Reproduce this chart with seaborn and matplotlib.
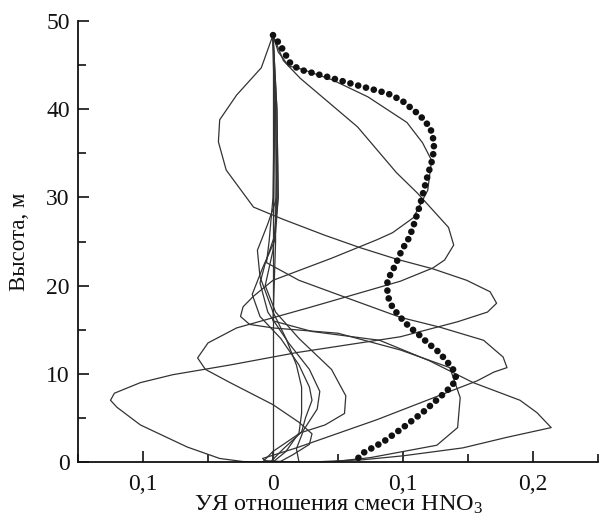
import matplotlib
matplotlib.use("Agg")
import matplotlib.pyplot as plt
import seaborn as sns
import pandas as pd

# ---------------- data ----------------
x_ticks = [-0.1, 0.0, 0.1, 0.2]
x_tick_labels = ["0,1", "0", "0,1", "0,2"]
x_minor = [-0.15, -0.05, 0.05, 0.15, 0.25]
y_ticks = [0, 10, 20, 30, 40, 50]
y_minor = [5, 15, 25, 35, 45]

dot_x = [0, 0.004, 0.007, 0.010, 0.013, 0.017, 0.023, 0.041, 0.065, 0.088, 0.099, 0.113,
         0.121, 0.124, 0.123, 0.119, 0.113, 0.109, 0.105, 0.099, 0.094, 0.088, 0.088, 0.092,
         0.098, 0.105, 0.111, 0.119, 0.128, 0.136, 0.140, 0.141, 0.136, 0.128, 0.115, 0.100,
         0.085, 0.069, 0.064]
dot_y = [48.4, 47.6, 46.9, 46.1, 45.3, 44.8, 44.4, 43.7, 42.7, 41.8, 41.0, 39.3, 37.9, 36.2,
         34.5, 32.5, 29.1, 27.2, 25.5, 24.0, 22.3, 20.6, 18.9, 17.5, 16.4, 15.3, 14.6, 13.5,
         12.4, 11.0, 10.2, 9.3, 8.4, 7.3, 5.6, 3.9, 2.3, 1.0, 0.2]

c1_x = [0, -0.009, -0.028, -0.041, -0.042, -0.036, -0.015, 0.008, 0.04, 0.067, 0.095, 0.123,
        0.149, 0.167, 0.172, 0.165, 0.142, 0.098, 0.018, -0.033, -0.077, -0.102, -0.122, -0.125,
        -0.12, -0.102, -0.066, -0.041, -0.023, 0.0]
c1_y = [48.4, 44.7, 41.6, 38.8, 36.3, 33.1, 28.9, 27.5, 25.7, 24.3, 23.0, 21.9, 20.6, 19.3,
        18.0, 17.0, 15.9, 14.2, 12.4, 11.0, 9.9, 9.0, 7.8, 7.0, 6.2, 4.2, 1.7, 0.4, 0.05, 0.0]

c2_x = [0, 0.004, 0.012, 0.023, 0.046, 0.073, 0.103, 0.115, 0.122, 0.119, 0.108, 0.092, 0.08,
        0.045, 0.0, -0.015, -0.023, -0.025, -0.018, 0.0, 0.05, 0.098, 0.136, 0.144, 0.142, 0.126,
        0.075, 0.044]
c2_y = [48.4, 46.5, 44.9, 44.5, 43.3, 41.4, 38.5, 36.2, 34.2, 30.8, 27.7, 26.0, 25.2, 23.1,
        20.6, 18.8, 17.6, 16.5, 15.6, 15.2, 14.6, 12.7, 10.7, 7.3, 3.9, 1.9, 0.5, 0.0]

c3_x = [0, 0.008, 0.021, 0.065, 0.095, 0.111, 0.135, 0.139, 0.132, 0.123, 0.098, 0.03, -0.028,
        -0.05, -0.058, -0.052, -0.033, 0.0, 0.02, 0.03, 0.028, 0.015, 0.005]
c3_y = [48.4, 45.5, 43.5, 38.0, 32.8, 30.5, 26.6, 24.6, 22.9, 22.0, 20.5, 17.6, 15.2, 13.5,
        11.8, 10.5, 9.0, 6.5, 4.5, 3.2, 2.0, 0.8, 0.0]

c4_x = [0, 0.001, 0.0, -0.003, -0.005, 0.02, 0.057, 0.098, 0.128, 0.162, 0.177, 0.18, 0.17,
        0.157, 0.08, 0.018, -0.008, -0.006, 0.01, 0.03]
c4_y = [48.4, 40, 30, 25, 22.6, 20.6, 18.6, 16.4, 15.3, 13.8, 11.9, 10.7, 10.2, 9.2, 4.8, 1.6,
        0.4, 0.15, 0.03, 0.0]

c5_x = [0, 0.001, 0.002, 0.0, 0.03, 0.082, 0.12, 0.154, 0.19, 0.203, 0.214, 0.18, 0.146, 0.1,
        0.069, 0.03]
c5_y = [48.4, 40, 25, 16.0, 14.8, 13.8, 11.5, 9.0, 7.0, 5.6, 3.9, 2.8, 1.6, 0.7, 0.25, 0.0]

v0_x = [0, 0]
v0_y = [48.4, 0]

n1_x = [0, 0.002, 0.003, -0.004, -0.012, -0.01, 0.0, 0.01, 0.018, 0.022, 0.022, 0.02, 0.01, 0.0]
n1_y = [48.4, 40, 30, 27, 24, 21, 17, 14, 11, 8.5, 5.5, 3.3, 1.2, 0.0]

n2_x = [0, 0.002, 0.003, 0.001, -0.008, -0.016, -0.01, 0.006, 0.02, 0.028, 0.03, 0.025, 0.022,
        0.008, -0.002]
n2_y = [48.4, 40, 30, 25, 22, 19, 16.5, 14, 11, 8.5, 7, 5, 3.4, 1.5, 0.0]

n3_x = [0, 0.003, 0.004, 0.002, -0.006, -0.01, -0.004, 0.012, 0.028, 0.036, 0.034, 0.023,
        0.0, -0.008]
n3_y = [48.4, 40, 30, 26, 22.5, 20.3, 17, 13.5, 10.5, 8, 6, 3.5, 1.2, 0.0]

n4_x = [0, 0.003, 0.004, 0.0, -0.006, 0.002, 0.02, 0.045, 0.056, 0.055, 0.04, 0.023, 0.018,
        0.02]
n4_y = [48.4, 40, 30, 24, 20, 17, 14, 10.5, 7.5, 5.5, 4.2, 3.4, 1.5, 0.0]

curves = {
    "c1": (c1_x, c1_y), "c2": (c2_x, c2_y), "c3": (c3_x, c3_y), "c4": (c4_x, c4_y),
    "c5": (c5_x, c5_y), "v0": (v0_x, v0_y), "n1": (n1_x, n1_y), "n2": (n2_x, n2_y),
    "n3": (n3_x, n3_y), "n4": (n4_x, n4_y),
}

# ---------------- style ----------------
sns.set_theme(style="ticks")
plt.rcParams["font.family"] = ["Liberation Serif", "DejaVu Serif"]
plt.rcParams["mathtext.fontset"] = "custom"
plt.rcParams["mathtext.rm"] = "Liberation Serif"
plt.rcParams["mathtext.it"] = "Liberation Serif:italic"

frames = []
for name, (xs, ys) in curves.items():
    frames.append(pd.DataFrame({"x": xs, "y": ys, "curve": name}))
df = pd.concat(frames, ignore_index=True)

fig = plt.figure(figsize=(5.99, 5.22), dpi=100)
ax = fig.add_axes([78 / 599, 60 / 522, 520 / 599, 441 / 522])

sns.lineplot(data=df, x="x", y="y", units="curve", estimator=None, sort=False,
             color="#333333", linewidth=0.9, ax=ax, legend=False)
sns.lineplot(x=dot_x, y=dot_y, estimator=None, sort=False, ax=ax, color="#111111",
             linewidth=4.8, linestyle=(0, (0.01, 1.2)), dash_capstyle="round")

ax.set_xlim(-0.15, 0.25)
ax.set_ylim(0, 50)
for s in ["top", "right"]:
    ax.spines[s].set_visible(False)
for s in ["left", "bottom"]:
    ax.spines[s].set_linewidth(1.3)
    ax.spines[s].set_color("#111111")

ax.set_xticks(x_ticks)
ax.set_xticklabels(x_tick_labels)
ax.set_xticks(x_minor, minor=True)
ax.set_yticks(y_ticks)
ax.set_yticks(y_minor, minor=True)
ax.tick_params(axis="both", which="major", direction="in", length=8, width=1.2,
               color="#111111", labelsize=17, labelcolor="#111111")
ax.tick_params(axis="both", which="minor", direction="in", length=6, width=1.2,
               color="#111111")
ax.tick_params(axis="x", which="major", pad=9)
ax.tick_params(axis="y", which="major", pad=6)

ax.set_xlabel("УЯ отношения смеси HNO$_3$", fontsize=17.5, color="#111111")
ax.set_ylabel("Высота, м", fontsize=16.5, color="#111111")
ax.xaxis.set_label_coords(0.5, -0.0975)
ax.xaxis.label.set_va("center")
ax.yaxis.set_label_coords(-0.112, 0.5)
ax.yaxis.label.set_va("center")

fig.savefig("out.png", dpi=100, facecolor="white")
